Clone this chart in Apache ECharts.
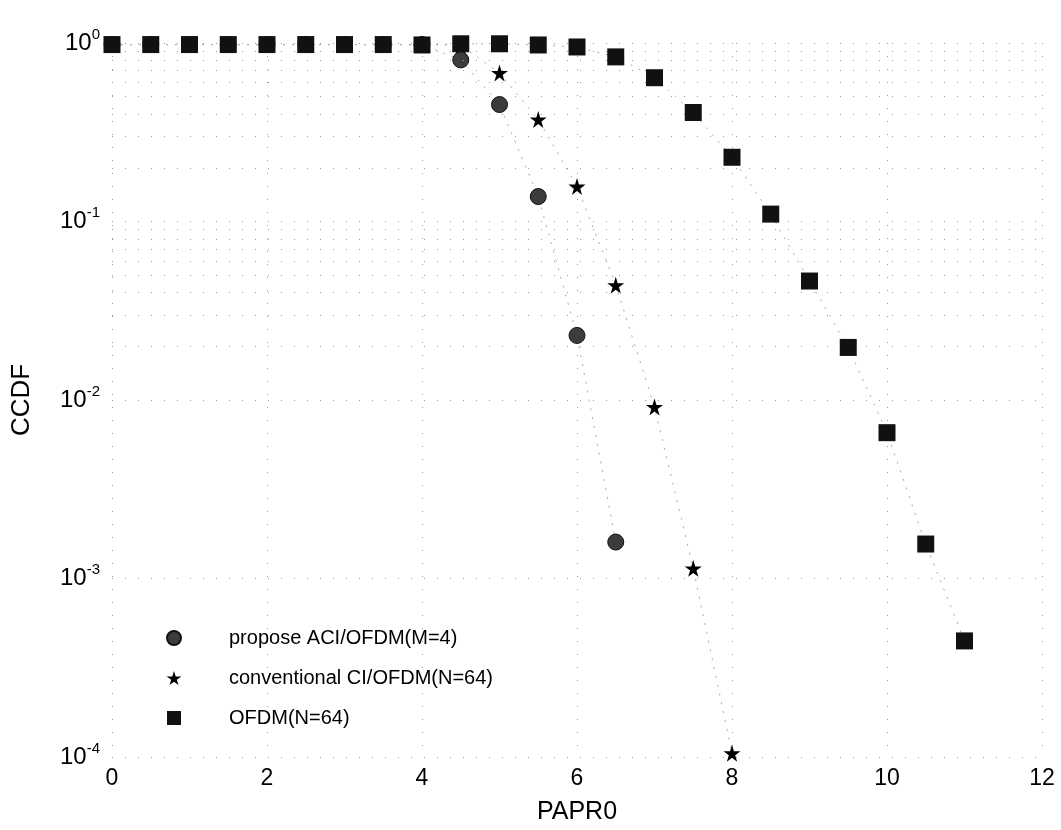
<!DOCTYPE html>
<html>
<head>
<meta charset="utf-8">
<script src="https://cdn.jsdelivr.net/npm/echarts@6/dist/echarts.min.js"></script>
<style>html,body{margin:0;padding:0;background:#fff}#c{width:1061px;height:830px}</style>
</head>
<body>
<div id="c"></div>
<script>
// ---- data ----
const seriesNames = ['propose ACI/OFDM(M=4)', 'conventional CI/OFDM(N=64)', 'OFDM(N=64)'];
const proposeX = [0, 0.5, 1, 1.5, 2, 2.5, 3, 3.5, 4, 4.5, 5, 5.5, 6, 6.5];
const proposeY = [0.98, 0.98, 0.98, 0.98, 0.98, 0.98, 0.98, 0.98, 0.98, 0.804, 0.452, 0.138, 0.023, 0.0016];
const convX = [0, 0.5, 1, 1.5, 2, 2.5, 3, 3.5, 4, 4.5, 5, 5.5, 6, 6.5, 7, 7.5, 8];
const convY = [0.98, 0.98, 0.98, 0.98, 0.98, 0.98, 0.98, 0.98, 0.98, 0.97, 0.68, 0.373, 0.157, 0.044, 0.00914, 0.00114, 0.000105];
const ofdmX = [0, 0.5, 1, 1.5, 2, 2.5, 3, 3.5, 4, 4.5, 5, 5.5, 6, 6.5, 7, 7.5, 8, 8.5, 9, 9.5, 10, 10.5, 11];
const ofdmY = [0.98, 0.98, 0.98, 0.98, 0.98, 0.98, 0.98, 0.98, 0.975, 0.99, 0.99, 0.975, 0.95, 0.836, 0.639, 0.408, 0.229, 0.11, 0.0464, 0.0197, 0.00656, 0.00156, 0.000447];
const xTicks = [0, 2, 4, 6, 8, 10, 12];
const yDecades = [-4, -3, -2, -1, 0];

// ---- build ----
const pairs = (xs, ys) => xs.map((x, i) => [x, ys[i]]);
const minorGrid = [];
yDecades.slice(0, -1).forEach(d => { for (let k = 2; k <= 9; k++) minorGrid.push({ yAxis: k * Math.pow(10, d) }); });
const star = 'path://M50,0 L61,35 L98,35 L68,57 L79,91 L50,70 L21,91 L32,57 L2,35 L39,35 Z';
const square = 'path://M0,0 L10,0 L10,10 L0,10 Z';
const gridDot = { color: '#999', width: 1, type: [1, 12] };
const FONT = 'Liberation Sans, Arial, sans-serif';

const chart = echarts.init(document.getElementById('c'), null, { renderer: 'canvas' });
chart.setOption({
  animation: false,
  backgroundColor: '#fff',
  grid: { left: 112, right: 19, top: 43, bottom: 68, containLabel: false },
  xAxis: {
    type: 'value', min: 0, max: 12, interval: 2,
    axisLine: { show: false }, axisTick: { show: false },
    axisLabel: { color: '#000', fontSize: 23, fontFamily: FONT, margin: 10 },
    splitLine: { show: true, lineStyle: gridDot },
    name: 'PAPR0', nameLocation: 'middle', nameGap: 43,
    nameTextStyle: { color: '#000', fontSize: 25, fontFamily: FONT }
  },
  yAxis: {
    type: 'log', logBase: 10, min: 1e-4, max: 1,
    axisLine: { show: false }, axisTick: { show: false },
    axisLabel: {
      margin: 12, color: '#000', fontFamily: FONT,
      formatter: v => '{b|10}{s|' + Math.round(Math.log10(v)) + '}',
      rich: {
        b: { fontSize: 24, fontFamily: FONT, color: '#000', lineHeight: 26 },
        s: { fontSize: 15, fontFamily: FONT, color: '#000', padding: [0, 0, 17, 0] }
      }
    },
    splitLine: { show: true, lineStyle: gridDot },
    name: 'CCDF', nameLocation: 'middle', nameGap: 77,
    nameTextStyle: { color: '#000', fontSize: 26, fontFamily: FONT }
  },
  legend: {
    orient: 'vertical', left: 161, top: 623,
    itemWidth: 100, itemHeight: 14, itemGap: 20,
    textStyle: { color: '#000', fontSize: 20, fontFamily: FONT },
    data: [
      { name: seriesNames[0], icon: 'circle' },
      { name: seriesNames[1], icon: star },
      { name: seriesNames[2], icon: square }
    ]
  },
  series: [
    {
      name: 'minorGrid', type: 'line', data: [], silent: true,
      markLine: { silent: true, symbol: 'none', label: { show: false }, lineStyle: gridDot, data: minorGrid }
    },
    {
      name: seriesNames[0], type: 'line', data: pairs(proposeX, proposeY),
      symbol: 'circle', symbolSize: 16, clip: false,
      itemStyle: { color: '#3c3c3c', borderColor: '#111', borderWidth: 1 },
      lineStyle: { color: '#aaa', width: 1, type: [2, 7] }, z: 3
    },
    {
      name: seriesNames[1], type: 'line', data: pairs(convX, convY),
      symbol: star, symbolSize: 17, clip: false,
      itemStyle: { color: '#000' },
      lineStyle: { color: '#aaa', width: 1, type: [2, 7] }, z: 4
    },
    {
      name: seriesNames[2], type: 'line', data: pairs(ofdmX, ofdmY),
      symbol: square, symbolSize: 17, clip: false,
      itemStyle: { color: '#111' },
      lineStyle: { color: '#aaa', width: 1, type: [2, 7] }, z: 5
    }
  ]
});
</script>
</body>
</html>
